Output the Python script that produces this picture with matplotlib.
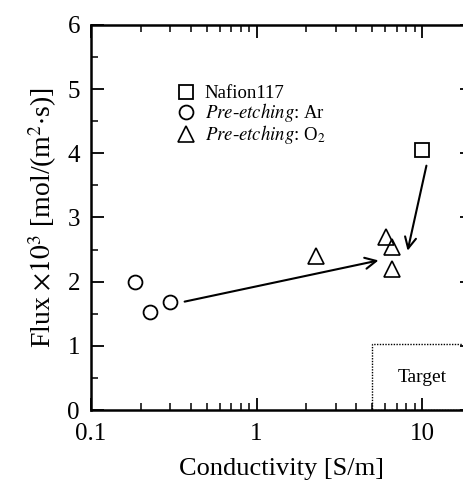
import matplotlib
matplotlib.use('Agg')
import matplotlib.pyplot as plt
from matplotlib.ticker import LogLocator, MultipleLocator, FixedLocator, NullFormatter
from matplotlib.patches import Rectangle

plt.rcParams['font.family'] = ['Liberation Serif', 'DejaVu Serif']
plt.rcParams['mathtext.fontset'] = 'stix'

# data
nafion_x = [10.0]
nafion_y = [4.05]
ar_x = [0.184, 0.226, 0.299]
ar_y = [2.0, 1.53, 1.68]
o2_x = [2.3, 6.07, 6.6, 6.6]
o2_y = [2.40, 2.69, 2.54, 2.2]

xticks = [0.1, 1, 10]
xticklabels = ['0.1', '1', '10']
yticks = [0, 1, 2, 3, 4, 5, 6]

fig = plt.figure(figsize=(4.64, 4.86), dpi=100)
ax = fig.add_axes([91/464, 76/486, (472-91)/464, (410-25)/486])

ax.plot(nafion_x, nafion_y, 's', ms=10, mfc='white', mec='black', mew=1.3, label='Nafion117')
ax.plot(ar_x, ar_y, 'o', ms=10, mfc='white', mec='black', mew=1.3,
        label=r'$\mathit{Pre}$-$\mathit{etching}$: Ar')
ax.plot(o2_x, o2_y, '^', ms=11, mfc='none', mec='black', mew=1.2,
        label=r'$\mathit{Pre}$-$\mathit{etching}$: O$_2$')

# arrows
ax.annotate('', xy=(5.66, 2.34), xytext=(0.354, 1.68),
            arrowprops=dict(arrowstyle='->', lw=1.5, color='black', mutation_scale=20))
ax.annotate('', xy=(8.1, 2.44), xytext=(10.7, 3.85),
            arrowprops=dict(arrowstyle='->', lw=1.5, color='black', mutation_scale=20))

# target region
ax.add_patch(Rectangle((4.95, 0), 30, 1.03, fill=False, ls=(0, (1, 1)), lw=1.0, ec='black'))
ax.text(10, 0.5, 'Target', ha='center', va='center', fontsize=14)

ax.set_xscale('log')
ax.set_xlim(0.1, 20)
ax.set_ylim(0, 6)
ax.set_xticks(xticks)
ax.set_xticklabels(xticklabels)
ax.xaxis.set_minor_locator(LogLocator(base=10, subs=range(2, 10)))
ax.xaxis.set_minor_formatter(NullFormatter())
ax.yaxis.set_major_locator(FixedLocator(yticks))
ax.yaxis.set_minor_locator(MultipleLocator(0.5))

ax.tick_params(which='both', direction='in', top=True, right=True, labelsize=18)
ax.tick_params(which='major', length=9, width=1.3)
ax.tick_params(which='minor', length=5, width=1.1)
ax.tick_params(axis='y', pad=8)
ax.tick_params(axis='x', pad=9)
for s in ax.spines.values():
    s.set_linewidth(1.8)

ax.set_xlabel('Conductivity [S/m]', fontsize=19, labelpad=10)
ax.set_ylabel(r'Flux $\times 10^3$ [mol/(m$^2$$\cdot$s)]', fontsize=20, labelpad=6)

ax.legend(loc='upper left', bbox_to_anchor=(0.2, 0.868), frameon=False, fontsize=13.5,
          handletextpad=0.5, labelspacing=-0.05, borderpad=0, handlelength=1.0)

fig.savefig('out.png', dpi=100)
